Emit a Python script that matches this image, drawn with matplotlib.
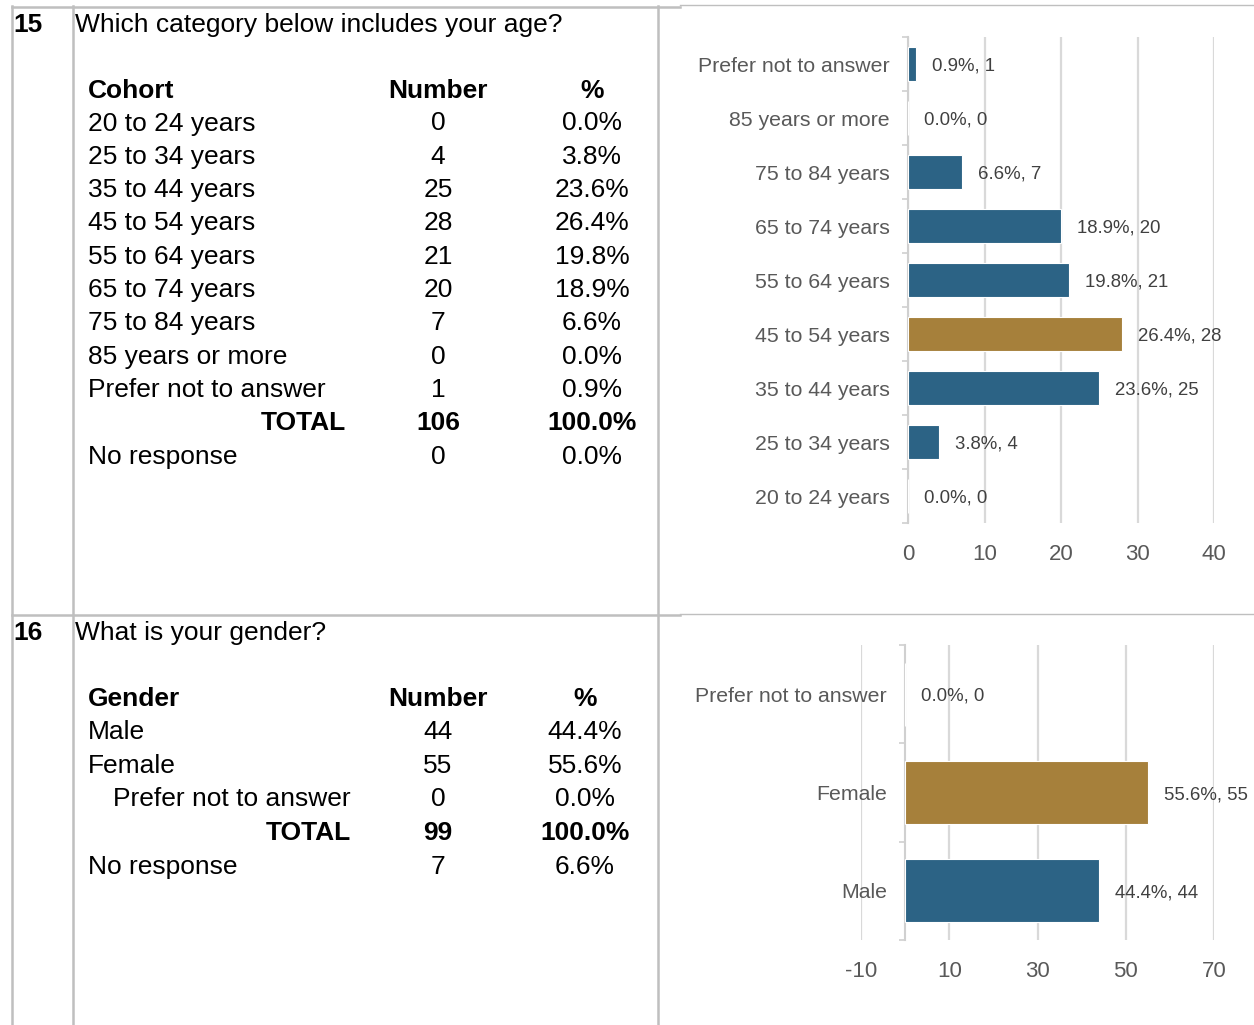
import matplotlib
matplotlib.use("Agg")
import matplotlib.pyplot as plt

plt.rcParams['font.family'] = ['Liberation Sans', 'DejaVu Sans']

# ---- Question 15: age cohorts ----
age_cohorts = ["20 to 24 years", "25 to 34 years", "35 to 44 years", "45 to 54 years",
               "55 to 64 years", "65 to 74 years", "75 to 84 years", "85 years or more",
               "Prefer not to answer"]
age_counts = [0, 4, 25, 28, 21, 20, 7, 0, 1]
age_pcts = [0.0, 3.8, 23.6, 26.4, 19.8, 18.9, 6.6, 0.0, 0.9]
age_no_response = (0, 0.0)
age_ticks = [0, 10, 20, 30, 40]

# ---- Question 16: gender ----
gender_labels = ["Male", "Female", "Prefer not to answer"]
gender_counts = [44, 55, 0]
gender_pcts = [44.4, 55.6, 0.0]
gender_no_response = (7, 6.6)
gender_ticks = [-10, 10, 30, 50, 70]

BLUE = "#2C6385"
GOLD = "#A6803B"
GRID = "#D9D9D9"
AXIS = "#D0D0D0"
LABEL = "#595959"
VALUE = "#404040"
BORDER = "#BFBFBF"

W, H = 1254, 1025
fig = plt.figure(figsize=(W / 100, H / 100), dpi=100)

# Page layer in pixel units for the table borders and text
page = fig.add_axes([0, 0, 1, 1])
page.set_xlim(0, W)
page.set_ylim(H, 0)
page.axis("off")

lw_thick = 1.8
lw_thin = 1.0
page.plot([12, 680], [7, 7], color=BORDER, lw=lw_thick)
page.plot([680, W], [5, 5], color=BORDER, lw=lw_thin)
page.plot([12, 680], [615, 615], color=BORDER, lw=lw_thick)
page.plot([680, W], [614, 614], color=BORDER, lw=lw_thin)
for x in (12, 73, 658):
    page.plot([x, x], [6, H], color=BORDER, lw=lw_thick)

FS = 19


def put(x, y, s, ha="left", bold=False):
    page.text(x, y, s, ha=ha, va="baseline", fontsize=FS, color="black",
              fontweight="bold" if bold else "normal")


# Question 15 table
put(13, 32, "15", bold=True)
put(75, 32, "Which category below includes your age?")
put(88, 98, "Cohort", bold=True)
put(438, 98, "Number", ha="center", bold=True)
put(592, 98, "%", ha="center", bold=True)
row_y = 130.5
for name, n, p in zip(age_cohorts, age_counts, age_pcts):
    put(88, row_y, name)
    put(438, row_y, f"{n}", ha="center")
    put(592, row_y, f"{p:.1f}%", ha="center")
    row_y += 33.3
put(346, row_y, "TOTAL", ha="right", bold=True)
put(438, row_y, f"{sum(age_counts)}", ha="center", bold=True)
put(592, row_y, f"{sum(age_pcts):.1f}%", ha="center", bold=True)
row_y += 33.3
put(88, row_y, "No response")
put(438, row_y, f"{age_no_response[0]}", ha="center")
put(592, row_y, f"{age_no_response[1]:.1f}%", ha="center")

# Question 16 table
put(13, 640, "16", bold=True)
put(75, 640, "What is your gender?")
put(88, 706, "Gender", bold=True)
put(438, 706, "Number", ha="center", bold=True)
put(585, 706, "%", ha="center", bold=True)
row_y = 739
for name, n, p in zip(gender_labels, gender_counts, gender_pcts):
    if name == "Prefer not to answer":
        put(351, row_y, name, ha="right")
    else:
        put(88, row_y, name)
    put(438, row_y, f"{n}", ha="center")
    put(585, row_y, f"{p:.1f}%", ha="center")
    row_y += 33.7
put(351, row_y, "TOTAL", ha="right", bold=True)
put(438, row_y, f"{sum(gender_counts)}", ha="center", bold=True)
put(585, row_y, f"{sum(gender_pcts):.1f}%", ha="center", bold=True)
row_y += 33.7
put(88, row_y, "No response")
put(438, row_y, f"{gender_no_response[0]}", ha="center")
put(585, row_y, f"{gender_no_response[1]:.1f}%", ha="center")


def px_axes(left, top, right, bottom):
    return fig.add_axes([left / W, 1 - bottom / H, (right - left) / W, (bottom - top) / H])


def bar_chart(ax, labels, counts, pcts, ticks, xlim, height):
    n = len(labels)
    ypos = list(range(n))
    top = max(counts)
    colors = [GOLD if c == top else BLUE for c in counts]
    ax.barh(ypos, counts, height=height, color=colors, edgecolor="white",
            linewidth=0.8, zorder=3)
    for y, c, p in zip(ypos, counts, pcts):
        ax.annotate(f"{p:.1f}%, {c}", xy=(c, y), xytext=(11.5, -1.5),
                    textcoords="offset points", ha="left", va="center",
                    fontsize=13.4, color=VALUE, annotation_clip=False, zorder=4)
    ax.set_xlim(*xlim)
    ax.set_ylim(-0.5, n - 0.5)
    ax.set_xticks(ticks)
    ax.set_xticklabels([f"{t}" for t in ticks])
    ax.set_yticks(ypos)
    ax.set_yticklabels(labels)
    ax.set_yticks([i - 0.5 for i in range(n + 1)], minor=True)
    ax.tick_params(axis="x", length=0, pad=15, labelsize=16, labelcolor=LABEL)
    ax.tick_params(axis="y", which="major", length=0, pad=13, labelsize=15.3,
                   labelcolor=LABEL)
    ax.tick_params(axis="y", which="minor", length=4, width=1.2, color=AXIS,
                   direction="out")
    ax.xaxis.grid(True, color=GRID, linewidth=1.6, zorder=0)
    ax.set_axisbelow(True)
    for side in ("top", "right", "bottom"):
        ax.spines[side].set_visible(False)
    ax.spines["left"].set_position(("data", 0))
    ax.spines["left"].set_color(AXIS)
    ax.spines["left"].set_linewidth(1.5)
    ax.patch.set_alpha(0)


ax1 = px_axes(908, 37, 1214, 523)
bar_chart(ax1, age_cohorts, age_counts, age_pcts, age_ticks, (0, 40), 0.63)

ax2 = px_axes(861, 645, 1214, 940)
bar_chart(ax2, gender_labels, gender_counts, gender_pcts, gender_ticks, (-10, 70), 0.64)

fig.savefig("out.png", dpi=100)
